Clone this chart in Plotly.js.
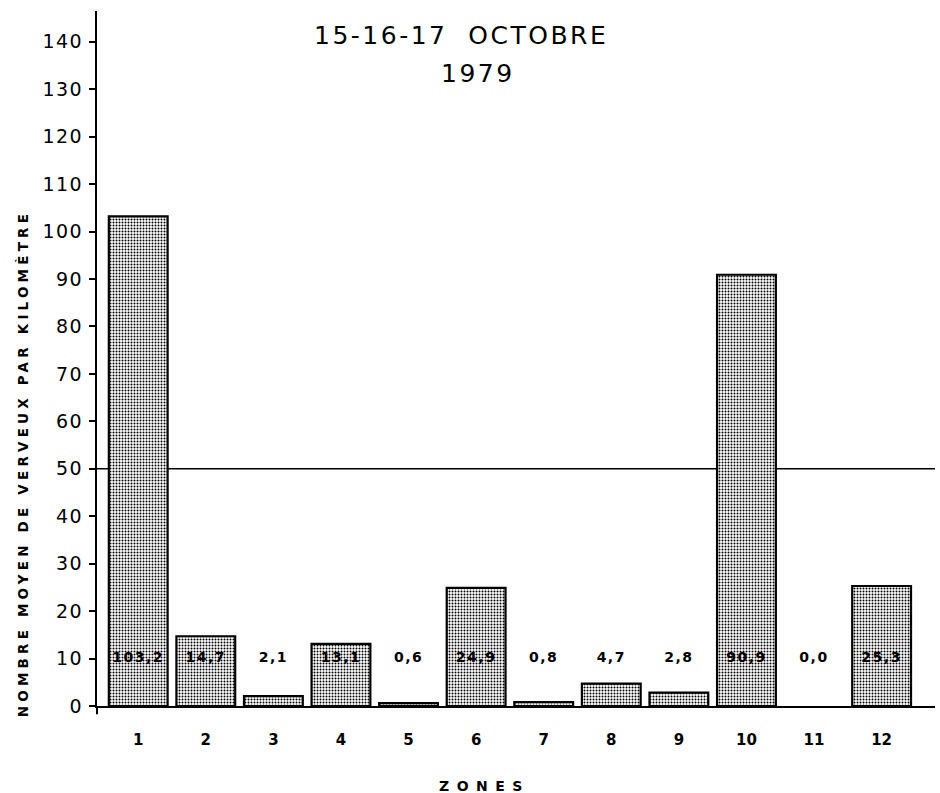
<!DOCTYPE html>
<html>
<head>
<meta charset="utf-8">
<script src="https://cdn.plot.ly/plotly-3.0.1.min.js"></script>
<style>html,body{margin:0;padding:0;background:#fff;}#chart{width:940px;height:793px;}</style>
</head>
<body>
<div id="chart"></div>
<script>
// Data
const zones = ["1","2","3","4","5","6","7","8","9","10","11","12"];
const values = [103.2, 14.7, 2.1, 13.1, 0.6, 24.9, 0.8, 4.7, 2.8, 90.9, 0.0, 25.3];
const valueLabels = ["103,2","14,7","2,1","13,1","0,6","24,9","0,8","4,7","2,8","90,9","0,0","25,3"];
const labelLevel = [10,10,10,10,10,10,10,10,10,10,10,10];
const referenceLevel = 50;
const yTicks = [0,10,20,30,40,50,60,70,80,90,100,110,120,130,140];
const titleLine1 = "15-16-17  OCTOBRE";
const titleLine2 = "1979";
const yTitle = "NOMBRE MOYEN DE VERVEUX PAR KILOMÈTRE";
const xTitle = "ZONES";

const font = "DejaVu Sans, Liberation Sans, sans-serif";
const sp = (t, px) => '<span style="letter-spacing:' + px + 'px">' + t + '</span>';

const bars = {
  type: "bar",
  x: zones,
  y: values,
  width: 0.87,
  marker: {
    color: "#ffffff",
    pattern: {shape: ".", fgcolor: "#000000", bgcolor: "#ffffff", size: 3, solidity: 0.35},
    line: {color: "#000000", width: values.map(v => v > 0 ? 2.2 : 0)}
  },
  hoverinfo: "skip",
  showlegend: false
};

const labels = {
  type: "scatter",
  mode: "text",
  x: zones,
  y: labelLevel,
  text: valueLabels.map(t => sp(t, 1.5)),
  textposition: "middle center",
  textfont: {family: font, size: 14, color: "#000", weight: "bold"},
  hoverinfo: "skip",
  showlegend: false
};

const layout = {
  width: 940, height: 793,
  margin: {l: 97, r: 5, t: 11, b: 87},
  paper_bgcolor: "#fff",
  plot_bgcolor: "#fff",
  showlegend: false,
  xaxis: {
    type: "category",
    range: [-0.61, 11.79],
    showline: true, linecolor: "#000", linewidth: 2,
    ticks: "", showgrid: false, zeroline: false,
    tickfont: {family: font, size: 15, color: "#000", weight: "bold"},
    ticklabelstandoff: 19
  },
  yaxis: {
    range: [0, 146.5],
    tickvals: yTicks,
    ticktext: yTicks.map(v => sp(String(v), 1.5)),
    showline: true, linecolor: "#000", linewidth: 2,
    ticks: "outside", ticklen: 6, tickwidth: 2, tickcolor: "#000",
    showgrid: false, zeroline: false,
    tickfont: {family: font, size: 19, color: "#000"},
    ticklabelstandoff: 2
  },
  shapes: [
    {type: "line", xref: "paper", x0: 0, x1: 1, yref: "y", y0: referenceLevel, y1: referenceLevel,
     line: {color: "#000", width: 1.5}, layer: "below"},
    {type: "line", xref: "paper", x0: 0, x1: 0, yref: "paper", y0: 0, y1: -0.012,
     line: {color: "#000", width: 2}}
  ],
  annotations: [
    {xref: "paper", yref: "paper", x: 0.434, y: 1.0, yanchor: "top", yshift: -8,
     text: sp(titleLine1, 2.5), showarrow: false, font: {family: font, size: 25, color: "#000"}},
    {xref: "paper", yref: "paper", x: 0.455, y: 1.0, yanchor: "top", yshift: -46,
     text: sp(titleLine2, 2.5), showarrow: false, font: {family: font, size: 25, color: "#000"}},
    {xref: "paper", yref: "y", x: -0.1, y: 51, textangle: -90,
     text: sp(yTitle, 4.2), showarrow: false,
     font: {family: font, size: 13.5, color: "#000", weight: "bold"}},
    {xref: "paper", yref: "paper", x: 0.462, y: 0, yanchor: "middle", yshift: -80,
     text: sp(xTitle, 7.5), showarrow: false,
     font: {family: font, size: 14, color: "#000", weight: "bold"}}
  ]
};

Plotly.newPlot("chart", [bars, labels], layout, {displayModeBar: false, staticPlot: true});
</script>
</body>
</html>
